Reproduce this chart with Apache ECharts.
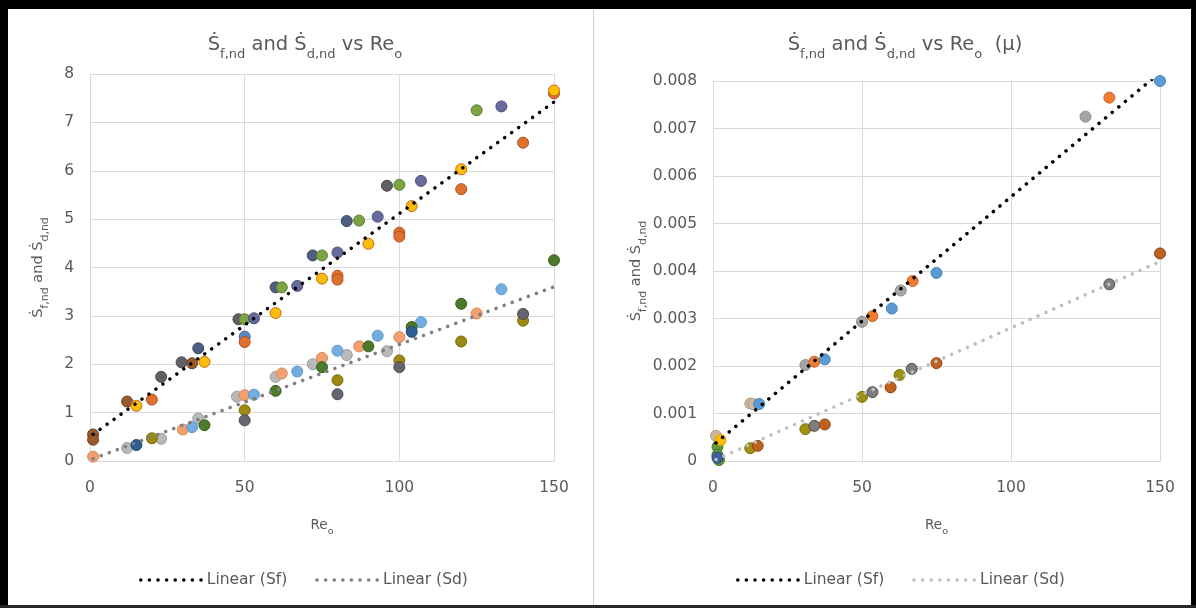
<!DOCTYPE html>
<html><head><meta charset="utf-8">
<script src="https://cdn.jsdelivr.net/npm/echarts@6/dist/echarts.min.js"></script>
<style>html,body{margin:0;padding:0;background:#fff;}#c{width:1196px;height:608px;}</style>
</head><body><div id="c"></div>
<script>
// ---------- Left chart data: Sf group (upper) ----------
const sfSlate  = [[35,2.33],[60,3.59],[72,4.25],[83,4.96]];
const sfDkGray = [[23,1.74],[29.6,2.04],[48,2.93],[96,5.69]];
const sfGreen  = [[50,2.93],[62,3.59],[75,4.25],[87,4.97],[100,5.71],[125,7.25]];
const sfPurple = [[53,2.95],[67,3.62],[80,4.31],[93,5.05],[107,5.79],[133,7.33]];
const sfBrown  = [[1,0.55],[1,0.44],[12,1.23],[33,2.02]];
const sfBlue   = [[50,2.57]];
const sfOrange = [[20,1.27],[50,2.46],[80,3.83],[80,3.75],[100,4.72],[100,4.64],[120,5.62],[140,6.58],[150,7.6]];
const sfYellow = [[15,1.14],[37,2.05],[60,3.06],[75,3.77],[90,4.49],[104,5.27],[120,6.03],[150,7.66]];
// ---------- Left chart data: Sd group (lower) ----------
const sdLtGray = [[12,0.27],[23,0.46],[35,0.88],[47.5,1.33],[60,1.74],[72,2.0],[83,2.19],[96,2.27]];
const sdPeach  = [[1,0.09],[30,0.65],[50,1.36],[62,1.81],[75,2.13],[87,2.37],[100,2.56],[125,3.05]];
const sdLtBlue = [[33,0.7],[53,1.37],[67,1.85],[80,2.28],[93,2.59],[107,2.87],[133,3.55]];
const sdGreen  = [[37,0.74],[60,1.45],[75,1.94],[90,2.37],[104,2.77],[120,3.25],[150,4.15]];
const sdOlive  = [[20,0.47],[50,1.05],[80,1.67],[100,2.08],[120,2.47],[140,2.9]];
const sdGray   = [[50,0.84],[80,1.38],[100,1.94],[140,3.04]];
const sdNavy   = [[15,0.33],[104,2.67]];
// trendline endpoints
const leftTrendSf = [[1,0.55],[150,7.42]];
const leftTrendSd = [[1,0.05],[150,3.6]];

// ---------- Right chart data ----------
const rSfGray   = [[31,0.00202],[50,0.00293],[63,0.00359],[125,0.00725]];
const rSfOrange = [[34,0.00209],[53.5,0.00305],[67,0.00379],[133,0.00765]];
const rSfBlue   = [[37.5,0.00214],[15.5,0.0012],[60,0.00321],[75,0.00396],[150,0.008]];
const rSfTan    = [[1,0.00053],[12.5,0.00121],[13.5,0.0012]];
const rSfYellow = [[2.5,0.00044]];
const rSdOlive  = [[12.5,0.00027],[31,0.00067],[50,0.00135],[62.6,0.00181]];
const rSdDkGray = [[34,0.00074],[53.5,0.00145],[66.7,0.00194],[133,0.00372]];
const rSdBrown  = [[15,0.00032],[37.5,0.00077],[59.6,0.00155],[75,0.00206],[150,0.00437]];
const rSdGreen  = [[1.5,0.0003],[1.5,0.00013],[2,0.00002]];
const rSdBlue   = [[1.5,0.00007]];
const rightTrendSf = [[1,0.00038],[150,0.00818]];
const rightTrendSd = [[1,0.00003],[150,0.0042]];

// ---------- axis ticks / labels ----------
const xTicks = {min:0, max:150, interval:50};
const leftYTicks = {min:0, max:8, interval:1};
const rightYTicks = {min:0, max:0.008, interval:0.001};
const titleLeft  = '{m|Ṡ}{s|f,nd}{m| and Ṡ}{s|d,nd}{m| vs Re}{s|o}';
const titleRight = '{m|Ṡ}{s|f,nd}{m| and Ṡ}{s|d,nd}{m| vs Re}{s|o}{m|  (μ)}';
const yName = '{m|Ṡ}{s|f,nd}{m| and Ṡ}{s|d,nd}';
const xName = '{m|Re}{s|o}';
const legendNames = ['Linear (Sf)','Linear (Sd)'];

const FONT = 'DejaVu Sans';
const TXT = '#595959';
const GRID = '#d9d9d9';

function scatter(data, fill, border, idx) {
  return {type:'scatter', xAxisIndex:idx, yAxisIndex:idx, data:data, symbolSize:11,
    itemStyle:{color:fill, borderColor:border, borderWidth:1, opacity:1}, z:2, silent:true};
}
function trend(name, data, color, idx) {
  return {type:'line', name:name, xAxisIndex:idx, yAxisIndex:idx, data:data,
    symbol:'circle', showSymbol:false,
    lineStyle:{color:color, width:3.5, type:[0.1,8.5], cap:'round'}, itemStyle:{color:color},
    z:3, silent:true};
}
const titleRich = {
  m:{fontSize:19.5, fontFamily:FONT, fontWeight:'normal', color:TXT, lineHeight:25, verticalAlign:'top'},
  s:{fontSize:13, fontFamily:FONT, fontWeight:'normal', color:TXT, lineHeight:15, verticalAlign:'top', padding:[13,0,0,0]}
};
const xNameRich = {
  m:{fontSize:13.5, fontFamily:FONT, fontWeight:'normal', color:TXT, lineHeight:17, verticalAlign:'top'},
  s:{fontSize:9.5, fontFamily:FONT, fontWeight:'normal', color:TXT, lineHeight:11, verticalAlign:'top', padding:[9,0,0,0]}
};
const yNameRich = {
  m:{fontSize:14.5, fontFamily:FONT, fontWeight:'normal', color:TXT, lineHeight:18, verticalAlign:'top'},
  s:{fontSize:11, fontFamily:FONT, fontWeight:'normal', color:TXT, lineHeight:13, verticalAlign:'top', padding:[9,0,0,0]}
};
function xAxis(idx) {
  return Object.assign({gridIndex:idx, type:'value', axisLine:{show:true, lineStyle:{color:GRID}},
    axisTick:{show:false}, splitLine:{show:true, lineStyle:{color:GRID}},
    axisLabel:{color:TXT, fontSize:15.5, fontFamily:FONT, margin:19},
    name:xName, nameLocation:'middle', nameGap:57, nameTextStyle:{fontWeight:'normal', rich:xNameRich}}, xTicks);
}
function yAxis(idx, ticks, gap) {
  return Object.assign({gridIndex:idx, type:'value', axisLine:{show:false}, axisTick:{show:false},
    splitLine:{show:true, lineStyle:{color:GRID}},
    axisLabel:{color:TXT, fontSize:15.5, fontFamily:FONT, margin:16},
    name:yName, nameLocation:'middle', nameGap:gap, nameTextStyle:{fontWeight:'normal', rich:yNameRich}}, ticks);
}
const legendBase = {itemWidth:61, itemHeight:16, itemGap:28, top:567,
  textStyle:{color:TXT, fontSize:15.5, fontFamily:FONT},
  itemStyle:{opacity:0, borderWidth:0},
  lineStyle:{width:3.5, cap:'round', type:[0.1,8.5], opacity:1}};

const option = {
  animation:false,
  backgroundColor:'#fff',
  title:[
    {text:titleLeft, left:300, top:30, textAlign:'center', textStyle:{fontWeight:'normal', rich:titleRich}},
    {text:titleRight, left:900, top:30, textAlign:'center', textStyle:{fontWeight:'normal', rich:titleRich}}
  ],
  grid:[
    {left:90, top:74, width:464, height:387},
    {left:713, top:81, width:447, height:380}
  ],
  xAxis:[xAxis(0), xAxis(1)],
  yAxis:[yAxis(0, leftYTicks, 41), yAxis(1, rightYTicks, 65)],
  legend:[
    Object.assign({left:134, data:[
      {name:legendNames[0], lineStyle:{color:'#000000'}, itemStyle:{opacity:0}},
      {name:legendNames[1], lineStyle:{color:'#7f7f7f'}, itemStyle:{opacity:0}}]}, legendBase),
    Object.assign({left:731, data:[
      {name:legendNames[0], lineStyle:{color:'#000000'}, itemStyle:{opacity:0}},
      {name:legendNames[1], lineStyle:{color:'#bfbfbf'}, itemStyle:{opacity:0}}]}, legendBase)
  ],
  series:[
    scatter(sdLtGray,'#b9b9b9','#9d9d9d',0),
    scatter(sdPeach,'#f3a06e','#d8875a',0),
    scatter(sdLtBlue,'#74ade0','#5f97c9',0),
    scatter(sdOlive,'#9c8a12','#7a6b0c',0),
    scatter(sdGray,'#66646f','#4d4b55',0),
    scatter(sdGreen,'#4b7a2a','#3a5f20',0),
    scatter(sdNavy,'#2f5f92','#234770',0),
    scatter(sfBrown,'#98592c','#6f4020',0),
    scatter(sfDkGray,'#5f5f66','#47474d',0),
    scatter(sfSlate,'#4c5f80','#37465f',0),
    scatter(sfGreen,'#7da443','#5d7d2f',0),
    scatter(sfPurple,'#666a9c','#4c4f78',0),
    scatter(sfBlue,'#5a88c4','#46699a',0),
    scatter(sfOrange,'#e0702f','#a95220',0),
    scatter(sfYellow,'#fbbd08','#c96a16',0),
    trend(legendNames[0], leftTrendSf, '#000000', 0),
    trend(legendNames[1], leftTrendSd, '#7f7f7f', 0),

    scatter(rSdGreen,'#5e9a3a','#477a2a',1),
    scatter(rSdBlue,'#3c5fa0','#2c4777',1),
    scatter(rSdOlive,'#9e9010','#7d710b',1),
    scatter(rSdDkGray,'#7e7e7e','#4d4d4d',1),
    scatter(rSdBrown,'#c0601f','#8e4414',1),
    scatter(rSfTan,'#cdb7a0','#b39c85',1),
    scatter(rSfYellow,'#ffc000','#d49a00',1),
    scatter(rSfGray,'#a5a5a5','#8a8a8a',1),
    scatter(rSfOrange,'#ed7d31','#c8642a',1),
    scatter(rSfBlue,'#5b9bd5','#4a82b5',1),
    trend(legendNames[0], rightTrendSf, '#000000', 1),
    trend(legendNames[1], rightTrendSd, '#bfbfbf', 1)
  ],
  graphic:[
    {type:'rect', silent:true, z:100, shape:{x:0,y:0,width:1196,height:9}, style:{fill:'#000'}},
    {type:'rect', silent:true, z:100, shape:{x:0,y:0,width:8,height:608}, style:{fill:'#000'}},
    {type:'rect', silent:true, z:100, shape:{x:1191,y:0,width:5,height:608}, style:{fill:'#000'}},
    {type:'rect', silent:true, z:100, shape:{x:0,y:605,width:1196,height:3}, style:{fill:'#262626'}},
    {type:'rect', silent:true, z:100, shape:{x:593,y:9,width:1,height:596}, style:{fill:'#d0d0d0'}}
  ]
};
const chart = echarts.init(document.getElementById('c'), null, {renderer:'canvas'});
chart.setOption(option);
</script></body></html>
